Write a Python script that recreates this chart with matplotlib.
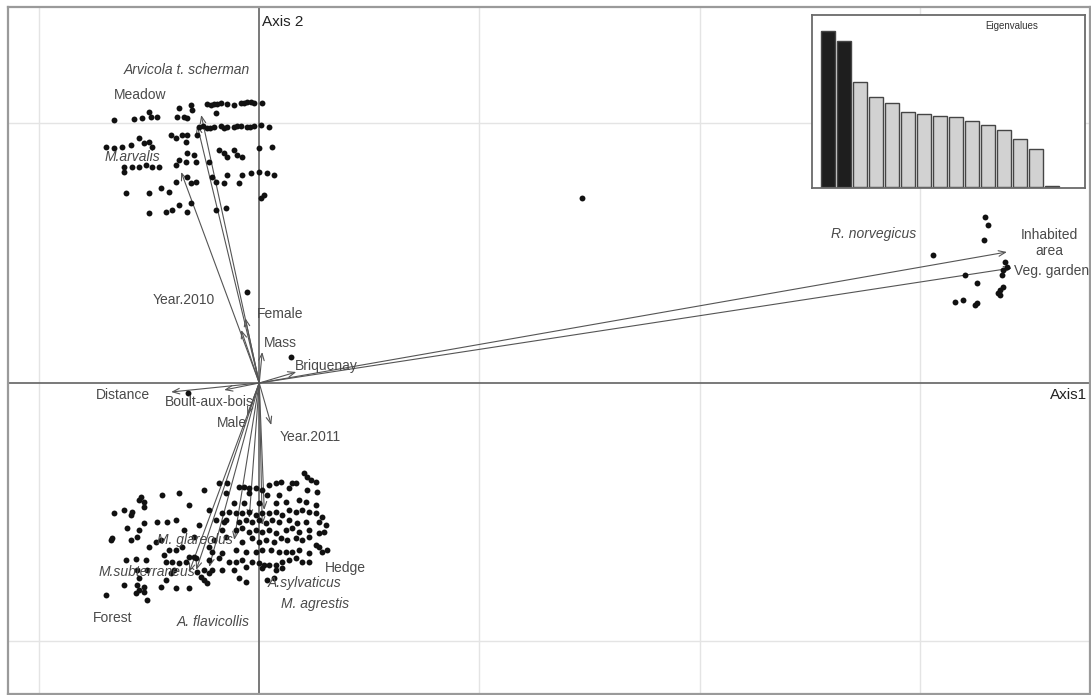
import matplotlib
matplotlib.use("Agg")
import matplotlib.pyplot as plt

plt.rcParams['font.family'] = ['Liberation Sans', 'DejaVu Sans']

# ---------------- data (row scores on axes 1 and 2) ----------------
upper_x = [-1.45, -1.25, -1.17, -1.10, -1.08, -1.02, -0.80, -0.82, -0.75, -0.72,
           -1.53, -1.45, -1.37, -1.28, -1.20, -1.15, -1.10, -1.07, -0.88, -0.83, -0.77, -0.73,
           -1.35, -1.27, -1.20, -1.13, -1.07, -1.00, -1.35, -0.83, -0.80, -0.73,
           -1.33, -1.10, -0.98, -0.90, -0.83, -1.10, -0.93, -0.87, -0.80,
           -0.52, -0.45, -0.38, -0.32, -0.25, -0.18, -0.12, -0.05, 0.03, -0.48, -0.42, -0.15, -0.08,
           -0.43, -0.68, -0.67,
           -0.60, -0.52, -0.45, -0.38, -0.32, -0.25, -0.18, -0.12, -0.05, 0.02, 0.10,
           -0.56, -0.49, -0.35, -0.22, -0.09,
           -0.72, -0.62, -0.40, -0.35, -0.25, -0.22, -0.17, -0.32, 0.00, 0.13,
           -0.65, -0.72, -0.63, -0.50,
           -0.17, -0.08, 0.00, 0.08, 0.15, -0.32, -0.47, -0.43, -0.35, -0.20,
           -0.72, -0.68, -0.63, 0.02, 0.05, -0.68, -0.72, -0.43, -0.33]
upper_y = [2.63, 2.64, 2.65, 2.71, 2.66, 2.66, 2.75, 2.66, 2.66, 2.65,
           2.36, 2.35, 2.36, 2.38, 2.45, 2.40, 2.41, 2.36, 2.48, 2.45, 2.48, 2.41,
           2.16, 2.16, 2.16, 2.18, 2.16, 2.16, 2.11, 2.18, 2.23, 2.21,
           1.90, 1.90, 1.95, 1.91, 2.01, 1.70, 1.71, 1.73, 1.78,
           2.79, 2.79, 2.80, 2.79, 2.78, 2.80, 2.81, 2.80, 2.80, 2.78, 2.79, 2.80, 2.81,
           2.70, 2.78, 2.73,
           2.56, 2.55, 2.56, 2.57, 2.56, 2.56, 2.57, 2.56, 2.57, 2.58, 2.56,
           2.57, 2.55, 2.55, 2.57, 2.56,
           2.48, 2.48, 2.33, 2.30, 2.33, 2.28, 2.26, 2.26, 2.35, 2.36,
           2.28, 2.30, 2.21, 2.21,
           2.08, 2.10, 2.11, 2.10, 2.08, 2.08, 2.06, 2.01, 2.00, 2.00,
           2.06, 2.00, 2.01, 1.85, 1.88, 1.80, 1.71, 1.73, 1.75]

lower_x = [-1.18, -1.15, -1.15, -1.20, -0.97, -0.80,
           -1.45, -1.35, -1.28, -1.27, -1.15, -1.02, -0.92, -0.83, -1.32, -1.20,
           -1.47, -1.48, -1.28, -1.22, -1.10, -1.03, -0.98, -0.90, -0.83, -0.77, -0.65,
           -1.33, -1.23, -1.13, -0.95, -0.93, -0.87, -0.80, -0.73, -0.65,
           -1.22, -1.12, -1.20, -0.85, -0.88, -0.62, -0.55, -0.50,
           -1.35, -1.22, -1.15, -1.20, -1.23, -1.15, -0.98, -0.93, -0.83, -0.70,
           -1.53, -1.12, -0.58, -0.55,
           0.45, 0.48, 0.52, 0.57, 0.10, 0.17, 0.22, 0.30, 0.33, 0.37, 0.48, 0.58,
           -0.40, -0.32, -0.20, -0.15, -0.10, -0.03, 0.03,
           -0.33, -0.10, 0.08, 0.20, 0.27, 0.40, 0.47, 0.57,
           -0.25, -0.15, 0.00, 0.17,
           -0.37, -0.30, -0.23, -0.17, -0.10, -0.03, 0.03, 0.10, 0.17, 0.23, 0.30, 0.37, 0.43, 0.50, 0.57, 0.63,
           -0.43, -0.33, -0.20, -0.13, -0.07, 0.00, 0.07, 0.13, 0.20, 0.30, 0.38, 0.47, 0.60, 0.67,
           -0.37, -0.23, -0.17, -0.10, -0.03, 0.03, 0.10, 0.17, 0.27, 0.33, 0.40, 0.50, 0.60, 0.65,
           -0.45, -0.33, -0.17, -0.07, 0.00, 0.07, 0.15, 0.22, 0.28, 0.37, 0.43, 0.50, 0.57, 0.60,
           -0.47, -0.37, -0.23, -0.13, -0.03, 0.03, 0.12, 0.20, 0.27, 0.33, 0.40, 0.50, 0.63, 0.68,
           -0.50, -0.40, -0.30, -0.23, -0.17, -0.07, 0.00, 0.05, 0.10, 0.17, 0.23, 0.30, 0.37, 0.43, 0.50,
           -0.47, -0.37, -0.25, -0.13, 0.03, 0.17, 0.23,
           -0.20, -0.13, 0.08, 0.15,
           -0.55, -0.50, -0.35, -0.50, -0.63, -0.70, -0.52, -0.75, -0.60, -0.70]
lower_y = [-1.14, -1.19, -1.24, -1.17, -1.12, -1.10,
           -1.30, -1.27, -1.32, -1.29, -1.40, -1.39, -1.39, -1.37, -1.45, -1.47,
           -1.55, -1.57, -1.57, -1.54, -1.64, -1.59, -1.57, -1.67, -1.67, -1.64, -1.54,
           -1.77, -1.76, -1.77, -1.72, -1.79, -1.79, -1.80, -1.79, -1.74,
           -1.87, -1.87, -1.95, -1.87, -1.90, -1.89, -1.87, -1.90,
           -2.02, -2.02, -2.04, -2.07, -2.10, -2.09, -2.04, -1.97, -2.05, -2.05,
           -2.12, -2.17, -1.94, -1.97,
           -0.90, -0.94, -0.97, -0.99, -1.02, -1.00, -0.99, -1.05, -1.00, -1.00, -1.07, -1.09,
           -1.00, -1.00, -1.04, -1.04, -1.05, -1.05, -1.07,
           -1.10, -1.10, -1.12, -1.12, -1.19, -1.17, -1.19, -1.22,
           -1.20, -1.20, -1.20, -1.20,
           -1.30, -1.29, -1.30, -1.30, -1.29, -1.32, -1.30, -1.30, -1.29, -1.32, -1.27, -1.29, -1.27, -1.29, -1.30, -1.34,
           -1.37, -1.37, -1.39, -1.37, -1.39, -1.37, -1.40, -1.37, -1.39, -1.37, -1.40, -1.39, -1.39, -1.42,
           -1.47, -1.47, -1.45, -1.49, -1.47, -1.49, -1.47, -1.50, -1.47, -1.45, -1.49, -1.47, -1.50, -1.49,
           -1.57, -1.54, -1.59, -1.55, -1.59, -1.57, -1.59, -1.55, -1.57, -1.55, -1.57, -1.54, -1.62, -1.64,
           -1.69, -1.70, -1.67, -1.69, -1.69, -1.67, -1.67, -1.69, -1.69, -1.69, -1.67, -1.70, -1.69, -1.67,
           -1.77, -1.75, -1.79, -1.79, -1.77, -1.79, -1.80, -1.82, -1.82, -1.82, -1.79, -1.77, -1.75, -1.79, -1.79,
           -1.87, -1.87, -1.87, -1.84, -1.85, -1.87, -1.85,
           -1.95, -1.99, -1.97, -1.95,
           -1.07, -1.27, -1.39, -1.64, -1.75, -1.74, -2.00, -1.47, -1.42, -1.22]

right_x = [7.25, 7.28, 7.24, 6.73, 7.45, 7.47, 7.43, 7.42, 7.05, 7.17,
           7.43, 7.40, 7.38, 7.40, 6.95, 7.03, 7.15, 7.17]
right_y = [1.66, 1.58, 1.43, 1.28, 1.21, 1.16, 1.13, 1.08, 1.08, 1.00,
           0.96, 0.93, 0.90, 0.88, 0.81, 0.83, 0.78, 0.80]

other_x = [3.22, -0.12, 0.32, -0.71]
other_y = [1.85, 0.91, 0.26, -0.10]

# column scores (arrows)
var_names = ["Meadow", "Arvicola", "M.arvalis", "Year.2010", "Female", "Mass",
             "Briquenay", "Inhabited area", "Veg. garden", "Distance",
             "Boult-aux-bois", "Male", "Year.2011", "Forest", "M.subterraneus",
             "A. flavicollis", "M. glareolus", "M. agrestis", "A.sylvaticus", "Hedge"]
var_x = [-0.58, -0.62, -0.78, -0.18, -0.14, 0.03, 0.37, 7.47, 7.52, -0.88,
         -0.35, -0.12, 0.12, -0.70, -0.63, -0.50, -0.25, -0.10, 0.03, 0.05]
var_y = [2.68, 2.58, 2.11, 0.53, 0.65, 0.31, 0.11, 1.31, 1.15, -0.09,
         -0.07, -0.32, -0.42, -1.89, -1.87, -1.84, -1.57, -1.35, -1.42, -1.27]

# labels
plain_labels = ["Meadow", "Year.2010", "Female", "Mass", "Briquenay", "Distance",
                "Boult-aux-bois", "Male", "Year.2011", "Hedge", "Forest",
                "Inhabited\narea", "Veg. garden"]
plain_lx = [-1.19, -0.75, 0.21, 0.21, 0.67, -1.36, -0.50, -0.27, 0.51, 0.86, -1.46, 7.89, 7.92]
plain_ly = [2.88, 0.83, 0.69, 0.40, 0.17, -0.12, -0.19, -0.40, -0.54, -1.85, -2.35, 1.40, 1.12]

species_labels = ["Arvicola t. scherman", "M.arvalis", "M. glareolus", "M.subterraneus",
                  "A.sylvaticus", "M. agrestis", "A. flavicollis", "R. norvegicus"]
species_lx = [-0.72, -1.27, -0.64, -1.12, 0.45, 0.56, -0.46, 6.14]
species_ly = [3.13, 2.26, -1.57, -1.89, -2.00, -2.21, -2.39, 1.49]

eigenvalues = [1.56, 1.46, 1.05, 0.90, 0.84, 0.75, 0.73, 0.71, 0.70, 0.66,
               0.62, 0.57, 0.48, 0.38, 0.01]
n_kept = 2

grid_x = [-2.2, 2.2, 4.4, 6.6]
grid_y = [-2.58, 2.6]

# ---------------- figure ----------------
fig = plt.figure(figsize=(10.91, 6.95), dpi=100)
ax = fig.add_axes([8/1091, 1/695, 1082/1091, 687/695])
ax.set_xlim(-2.51, 8.30)
ax.set_ylim(-3.11, 3.76)
ax.set_xticks([]); ax.set_yticks([])
for s in ax.spines.values():
    s.set_color('#9a9a9a'); s.set_linewidth(1.6)

for gx in grid_x:
    ax.axvline(gx, color='#e4e4e4', lw=1.0, zorder=0)
for gy in grid_y:
    ax.axhline(gy, color='#e4e4e4', lw=1.0, zorder=0)
ax.axvline(0, color='#6e6e6e', lw=1.3, zorder=1)
ax.axhline(0, color='#6e6e6e', lw=1.3, zorder=1)

pt_kw = dict(s=18, color='#111111', zorder=3, linewidths=0)
ax.scatter(upper_x, upper_y, **pt_kw)
ax.scatter(lower_x, lower_y, **pt_kw)
ax.scatter(right_x, right_y, **pt_kw)
ax.scatter(other_x, other_y, **pt_kw)

for vx, vy in zip(var_x, var_y):
    ax.annotate("", xy=(vx, vy), xytext=(0, 0),
                arrowprops=dict(arrowstyle="->,head_length=0.5,head_width=0.2",
                                color='#555555', lw=0.8, shrinkA=0, shrinkB=0),
                zorder=2)

lab_col = '#4a4a4a'
for t, lx, ly in zip(plain_labels, plain_lx, plain_ly):
    ax.text(lx, ly, t, ha='center', va='center', fontsize=10, color=lab_col,
            linespacing=1.1, zorder=4)
for t, lx, ly in zip(species_labels, species_lx, species_ly):
    ax.text(lx, ly, t, ha='center', va='center', fontsize=10, color=lab_col,
            style='italic', zorder=4)

ax.text(0.03, 3.61, "Axis 2", ha='left', va='center', fontsize=11, color='#222222')
ax.text(8.27, -0.12, "Axis1", ha='right', va='center', fontsize=11, color='#222222')

# eigenvalue inset
ins = fig.add_axes([812/1091, (695-188)/695, 273/1091, 173/695])
pos = list(range(len(eigenvalues)))
cols = ['#1e1e1e' if i < n_kept else '#d2d2d2' for i in pos]
ins.bar(pos, eigenvalues, width=0.86, color=cols, edgecolor='#454545', linewidth=1.0)
ins.set_xlim(-1.0, 16.06)
ins.set_ylim(-0.01, 1.72)
ins.set_xticks([]); ins.set_yticks([])
for s in ins.spines.values():
    s.set_color('#6a6a6a'); s.set_linewidth(1.3)
ins.text(11.5, 1.61, "Eigenvalues", ha='center', va='center', fontsize=7, color='#333333')

fig.savefig("out.png", dpi=100)
